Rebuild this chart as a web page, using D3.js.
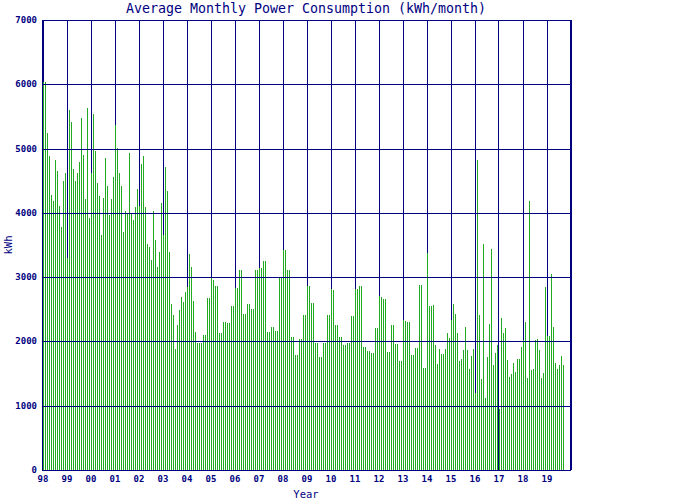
<!DOCTYPE html>
<html>
<head>
<meta charset="utf-8">
<script src="https://cdn.jsdelivr.net/npm/d3@7"></script>
<style>
  body { margin: 0; background: #fff; }
</style>
</head>
<body>
<div id="chart"></div>
<script>
// monthly averages in kWh, Jan..Dec of each year
const y1998 = [6040, 6040, 5240, 4890, 4280, 4180, 4820, 4650, 4110, 3780, 4500, 4620];
const y1999 = [3300, 5600, 5410, 4680, 4500, 4620, 4790, 5480, 4900, 4220, 5630, 3920];
const y2000 = [4615, 5540, 4960, 4460, 4260, 3655, 4230, 4850, 4420, 3970, 4215, 4560];
const y2001 = [5370, 5010, 4620, 4420, 3700, 4030, 3980, 4930, 3980, 3890, 4090, 4370];
const y2002 = [4100, 4760, 4880, 4090, 3515, 3470, 3270, 4030, 3580, 3160, 3390, 4150];
const y2003 = [3655, 4710, 4340, 3390, 2580, 2410, 1880, 2255, 2490, 2690, 2610, 2770];
const y2004 = [2850, 3360, 3160, 2630, 2150, 1980, 1980, 1980, 2100, 2100, 2680, 2680];
const y2005 = [2990, 2960, 2860, 2860, 2130, 2130, 2300, 2300, 2290, 2290, 2550, 2550];
const y2006 = [2830, 2830, 3110, 3110, 2430, 2430, 2580, 2580, 2500, 2500, 3110, 3110];
const y2007 = [3140, 3140, 3250, 3250, 2150, 2150, 2220, 2220, 2160, 2160, 2990, 2990];
const y2008 = [3420, 3420, 3110, 3110, 2070, 2070, 1790, 1790, 2040, 2040, 2410, 2410];
const y2009 = [2860, 2860, 2600, 2600, 1975, 1975, 1760, 1760, 1975, 1975, 2410, 2410];
const y2010 = [2820, 2800, 2260, 2260, 2070, 2070, 1945, 1945, 1975, 1975, 2400, 2400];
const y2011 = [2820, 2820, 2860, 2860, 1910, 1910, 1850, 1850, 1820, 1820, 2210, 2210];
const y2012 = [2710, 2690, 2660, 2660, 1835, 1835, 2255, 2255, 1960, 1960, 1700, 1700];
const y2013 = [2330, 2320, 2300, 2300, 1790, 1790, 1900, 1900, 2880, 2880, 1590, 1590];
const y2014 = [3375, 2550, 2550, 2570, 1945, 1650, 1880, 1805, 1805, 1880, 2130, 2050];
const y2015 = [2330, 2580, 2430, 2130, 1700, 1730, 1870, 2220, 1870, 1570, 1775, 1880];
const y2016 = [1200, 4820, 2410, 1415, 3515, 1120, 1760, 2270, 3440, 1635, 1820, 1945];
const y2017 = [950, 2360, 2130, 2210, 1710, 1450, 1490, 1665, 1525, 1730, 1730, 1915];
const y2018 = [2020, 2300, 1430, 4180, 1555, 1570, 2020, 2040, 1870, 1430, 1510, 2850];
const y2019 = [2085, 2085, 3050, 2225, 1665, 1570, 1635, 1775, 1635];

const yearLabels = ["98", "99", "00", "01", "02", "03", "04", "05", "06", "07", "08",
                    "09", "10", "11", "12", "13", "14", "15", "16", "17", "18", "19"];
const yTicks = [0, 1000, 2000, 3000, 4000, 5000, 6000, 7000];

const monthly = [].concat(y1998, y1999, y2000, y2001, y2002, y2003, y2004, y2005,
  y2006, y2007, y2008, y2009, y2010, y2011, y2012, y2013, y2014, y2015, y2016,
  y2017, y2018, y2019);

const navy = "#000080", green = "#22aa22";
const width = 700, height = 500;

const svg = d3.select("#chart")
  .append("svg")
    .attr("width", width)
    .attr("height", height)
    .style("font-family", "'DejaVu Sans Mono', monospace");

// one pixel column per month, a blank column between
const x = d3.scaleLinear().domain([-0.5, 263.5]).range([42, 570]);
const y = d3.scaleLinear().domain([0, 7000]).range([470, 20]);

// year lines sit under the bars
svg.append("g")
  .selectAll("line")
  .data(d3.range(0, 265, 12))
  .join("line")
    .attr("x1", d => Math.floor(x(d)) + 0.5)
    .attr("x2", d => Math.floor(x(d)) + 0.5)
    .attr("y1", y(7000))
    .attr("y2", y(0))
    .attr("stroke", navy)
    .attr("shape-rendering", "crispEdges");

// bars
svg.append("g")
  .selectAll("rect")
  .data(monthly)
  .join("rect")
    .attr("x", (d, i) => x(i))
    .attr("width", 1)
    .attr("y", d => y(d))
    .attr("height", d => y(0) - y(d))
    .attr("fill", green)
    .attr("shape-rendering", "crispEdges");

// horizontal lines go over the bars
svg.append("g")
  .selectAll("line")
  .data(yTicks.slice(1, -1))
  .join("line")
    .attr("x1", 42)
    .attr("x2", 571)
    .attr("y1", d => Math.round(y(d)) + 0.5)
    .attr("y2", d => Math.round(y(d)) + 0.5)
    .attr("stroke", navy)
    .attr("shape-rendering", "crispEdges");

// frame
svg.append("rect")
  .attr("x", 42.5).attr("y", 20.5)
  .attr("width", 528).attr("height", 450)
  .attr("fill", "none")
  .attr("stroke", navy)
  .attr("shape-rendering", "crispEdges");

// y tick labels
svg.append("g")
  .selectAll("text")
  .data(yTicks)
  .join("text")
    .attr("x", 37)
    .attr("y", d => Math.round(y(d)) + 3)
    .attr("text-anchor", "end")
    .attr("font-size", 9)
    .attr("font-weight", "bold")
    .attr("fill", navy)
    .text(d => d);

// year labels
svg.append("g")
  .selectAll("text")
  .data(yearLabels)
  .join("text")
    .attr("x", (d, i) => x(i * 12))
    .attr("y", 482)
    .attr("text-anchor", "middle")
    .attr("font-size", 9)
    .attr("font-weight", "bold")
    .attr("fill", navy)
    .text(d => d);

svg.append("text")
  .attr("x", 306).attr("y", 13)
  .attr("text-anchor", "middle")
  .attr("font-size", 13.3)
  .attr("fill", navy)
  .text("Average Monthly Power Consumption (kWh/month)");

svg.append("text")
  .attr("transform", "translate(12,245) rotate(-90)")
  .attr("text-anchor", "middle")
  .attr("font-size", 10.5)
  .attr("fill", navy)
  .text("kWh");

svg.append("text")
  .attr("x", 306).attr("y", 498)
  .attr("text-anchor", "middle")
  .attr("font-size", 10.5)
  .attr("fill", navy)
  .text("Year");
</script>
</body>
</html>
